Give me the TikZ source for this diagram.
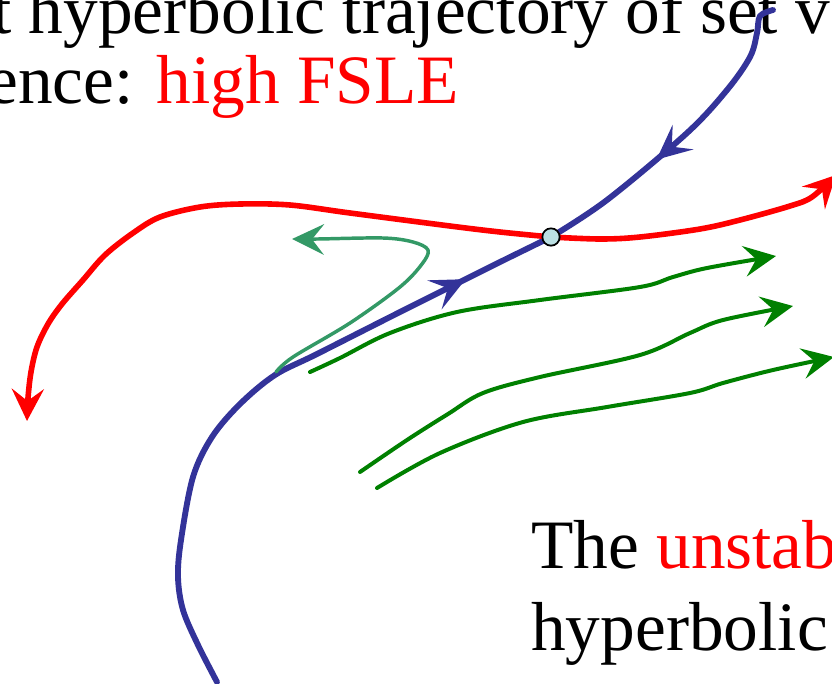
\documentclass[tikz,border=0pt]{standalone}
\usepackage{fontspec}
\setmainfont{Liberation Serif}
\usepackage{xcolor}
\usepackage{tikz}
\usetikzlibrary{arrows.meta,decorations.markings}
\definecolor{ink}{RGB}{0,0,0}
\definecolor{stabblue}{RGB}{51,51,153}
\definecolor{unstred}{RGB}{255,0,0}
\definecolor{flowgreen}{RGB}{0,128,0}
\definecolor{escgreen}{RGB}{51,153,102}
\definecolor{saddlefill}{RGB}{187,224,227}
\tikzset{
  slidetxt/.style={
    anchor=base west, inner sep=0pt, text=ink,
    font=\fontsize{52}{62}\selectfont,
  },
  stab/.style={draw=stabblue, line width=4.4pt, line cap=round},
  unst/.style={
    draw=unstred, line width=4.2pt, line cap=round,
    -{Stealth[length=24pt,width=24pt,inset=9pt]},
  },
  flow/.style={
    draw=flowgreen, line width=3pt, line cap=round,
    -{Stealth[length=24pt,width=23pt,inset=9pt]},
  },
  esc/.style={
    draw=escgreen, line width=2.6pt, line cap=round,
    -{Stealth[length=24pt,width=23pt,inset=9pt]},
  },
  midarr/.style={
    postaction={decorate},
    decoration={markings, mark=at position #1 with {\arrow{Stealth[length=26pt,width=24pt,inset=11pt]}}},
  },
  saddle/.style={
    circle, draw=ink, line width=1.3pt, fill=saddlefill,
    minimum size=13pt, inner sep=0pt,
  },
}

\begin{document}
\begin{tikzpicture}[x=0.75pt,y=-0.75pt]
  \useasboundingbox (0,0) rectangle (832,683);

  % slide text
  \node[slidetxt] (line1) at (-8,33) {t hyperbolic trajectory of set v};
  \node[slidetxt] (line2) at (-13,103) {ence: \textcolor{unstred}{high FSLE}};
  \node[slidetxt] (line3) at (531,568) {The \textcolor{unstred}{unstab}};
  \node[slidetxt] (line4) at (531,650) {hyperbolic};

  \coordinate (hyp) at (551,237);
  \coordinate (sTop) at (773,10);
  \coordinate (sBot) at (217,682);
  \coordinate (uL) at (27,421);
  \coordinate (uR) at (836,175);

  % stable manifold
  \draw[stab, midarr=0.6] plot[smooth, tension=0.55] coordinates {
    (sTop) (760,16) (757,33) (750,57) (727,90) (687,133) (607,200) (hyp)};
  \draw[stab, midarr=0.855] plot[smooth, tension=0.55] coordinates {
    (sBot) (198,645) (183,610) (178,577) (181,540) (193,477) (212,437)
    (240,404) (275,375) (317,354) (400,312) (458,283) (500,262) (hyp)};

  % unstable manifold
  \draw[unst] plot[smooth, tension=0.55] coordinates {
    (hyp) (600,239) (640,237) (700,229) (740,220) (790,206) (812,197) (uR)};
  \draw[unst] plot[smooth, tension=0.55] coordinates {
    (hyp) (500,232) (450,226) (350,213) (290,205) (240,204) (200,207)
    (160,217) (133,233) (105,255) (83,280) (62,304) (48,324) (37,347)
    (31,372) (28,398) (uL)};

  % nearby trajectories
  \draw[esc] plot[smooth, tension=0.55] coordinates {
    (276,372) (293,357) (350,323) (400,287) (422,264) (428,250) (413,242)
    (383,238) (317,239) (292,239)};
  \draw[flow] plot[smooth, tension=0.55] coordinates {
    (310,372) (340,358) (390,333) (457,312) (540,300) (640,287) (673,277)
    (707,268) (776,256)};
  \draw[flow] plot[smooth, tension=0.55] coordinates {
    (360,472) (407,440) (448,414) (483,393) (540,377) (640,355) (690,333)
    (723,320) (793,306)};
  \draw[flow] plot[smooth, tension=0.55] coordinates {
    (377,488) (440,453) (523,422) (607,407) (690,393) (723,383) (773,370)
    (834,357)};

  \node[saddle] (hpoint) at (hyp) {};
\end{tikzpicture}
\end{document}
